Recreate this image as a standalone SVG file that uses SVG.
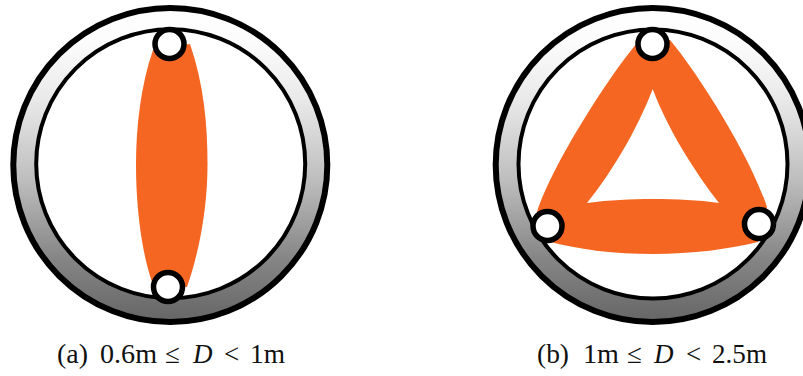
<svg xmlns="http://www.w3.org/2000/svg" width="803" height="376" viewBox="0 0 803 376">
<style>
.ring{fill:url(#g);stroke:#000;stroke-width:6}
.in{fill:#fff;stroke:#000;stroke-width:4}
.or{fill:#f46622;fill-rule:evenodd}
.n{fill:#fff;stroke:#000;stroke-width:5.5}
text{font-family:"Liberation Serif",serif;font-size:27px;fill:#111}
.m{font-style:italic}
</style>
<defs><linearGradient id="g" x1="0" y1="0" x2="0" y2="1"><stop offset="0" stop-color="#fff"/><stop offset=".12" stop-color="#fbfbfb"/><stop offset=".3" stop-color="#e8e8e8"/><stop offset=".55" stop-color="#bdbdbd"/><stop offset=".8" stop-color="#858585"/><stop offset="1" stop-color="#666"/></linearGradient></defs>
<rect width="803" height="376" fill="#fff"/>
<g id="diagram-a">
<circle class="ring" cx="170.300" cy="165" r="157"/>
<circle class="in" cx="170.700" cy="163.700" r="134.500"/>
<path class="or" d="M153 50C141 85 136 125 136 165C136 205 141 250 152 282L187 287C200 250 207.500 205 207.500 165C207.500 125 204 85 190 44Z"/>
<circle id="a-top" class="n" cx="169.500" cy="44" r="14.500"/>
<circle id="a-bottom" class="n" cx="168" cy="287" r="14.500"/>
<text id="a-label" y="363"><tspan x="57" textLength="31" lengthAdjust="spacingAndGlyphs">(a)</tspan><tspan x="100" textLength="57" lengthAdjust="spacingAndGlyphs">0.6m</tspan><tspan x="165">≤</tspan><tspan x="193" class="m">D</tspan><tspan x="224">&lt;</tspan><tspan x="250" textLength="35" lengthAdjust="spacingAndGlyphs">1m</tspan></text>
</g>
<g id="diagram-b">
<circle class="ring" cx="652.700" cy="165" r="157"/>
<circle class="in" cx="653" cy="164" r="134.500"/>
<path class="or" d="M637 43C610 75 553 163 537 212L547 241C580 250 615 254 653 254C692 254 730 249 758 242L767 207C750 155 697 72 670 40ZM652.700 89C637 130 612 172 587 203C610 200 630 199 653 199C677 199 698 200 719 203C695 172 668 130 652.700 89Z"/>
<circle id="b-top" class="n" cx="652.500" cy="44" r="14.500"/>
<circle id="b-left" class="n" cx="547.500" cy="226" r="14.500"/>
<circle id="b-right" class="n" cx="759" cy="224" r="14.500"/>
<text id="b-label" y="363"><tspan x="537" textLength="32" lengthAdjust="spacingAndGlyphs">(b)</tspan><tspan x="583" textLength="36" lengthAdjust="spacingAndGlyphs">1m</tspan><tspan x="627">≤</tspan><tspan x="654" class="m">D</tspan><tspan x="686">&lt;</tspan><tspan x="712" textLength="55" lengthAdjust="spacingAndGlyphs">2.5m</tspan></text>
</g>
</svg>
